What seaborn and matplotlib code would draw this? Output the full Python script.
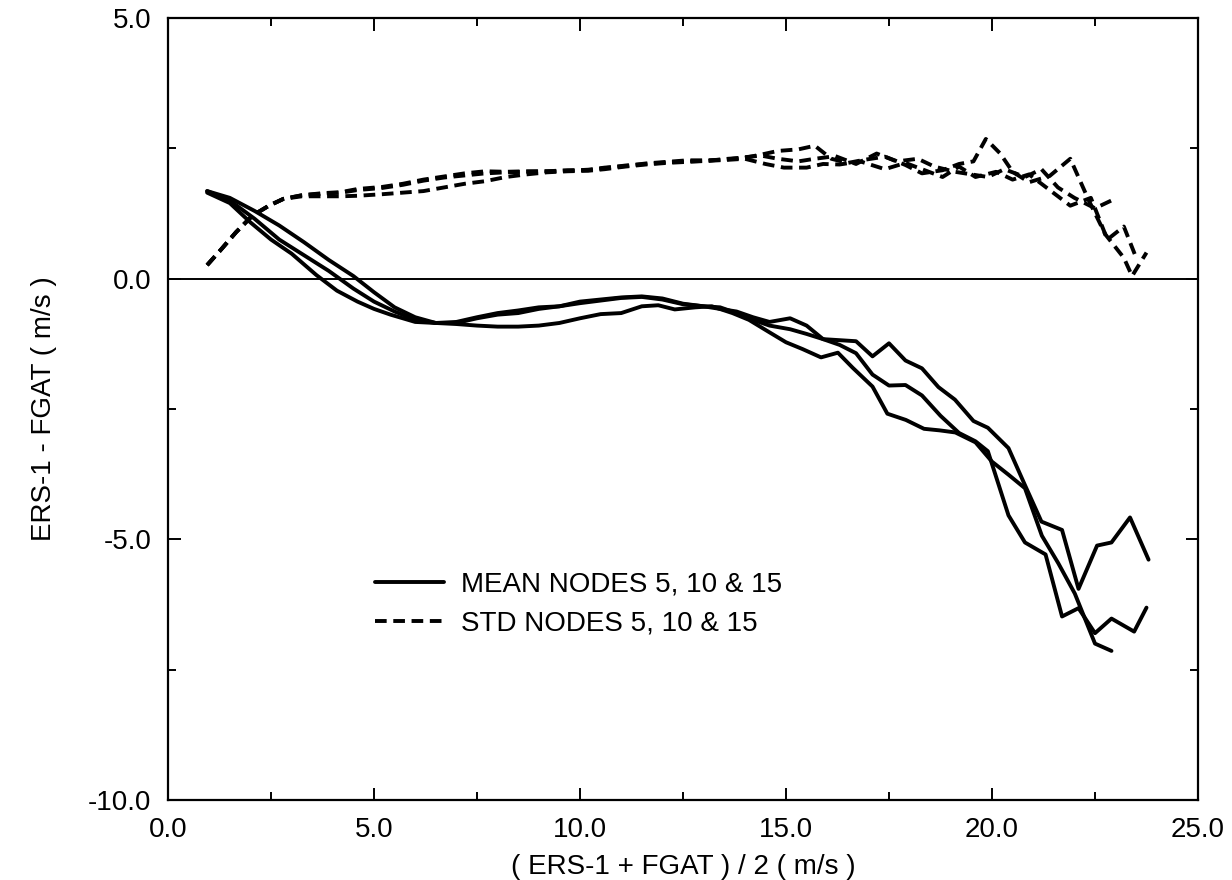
import matplotlib
matplotlib.use("Agg")
import matplotlib.pyplot as plt
from matplotlib.lines import Line2D
import seaborn as sns
import pandas as pd

# ---- data ----
mean_a_x = [0.95, 1.5, 2.1, 2.7, 3.3, 3.9, 4.5, 5.0, 5.5, 6.0, 6.5, 7.0, 7.5, 8.0, 8.5, 9.0, 9.5, 10.0,
            10.5, 11.0, 11.5, 12.0, 12.5, 13.0, 13.4, 13.8, 14.2, 14.6, 15.1, 15.5, 15.9, 16.3, 16.7, 17.1,
            17.5, 17.9, 18.3, 18.7, 19.1, 19.55, 19.9, 20.4, 20.8, 21.2, 21.7, 22.1, 22.55, 22.9, 23.35, 23.8]
mean_a_y = [1.68, 1.55, 1.30, 1.02, 0.70, 0.36, 0.05, -0.26, -0.55, -0.74, -0.85, -0.85, -0.76, -0.69, -0.66,
            -0.58, -0.53, -0.44, -0.40, -0.36, -0.34, -0.38, -0.48, -0.53, -0.58, -0.63, -0.74, -0.83, -0.76,
            -0.90, -1.16, -1.18, -1.20, -1.49, -1.24, -1.57, -1.72, -2.08, -2.32, -2.73, -2.86, -3.25, -3.96,
            -4.66, -4.82, -5.95, -5.12, -5.06, -4.58, -5.39]

mean_b_x = [0.95, 1.5, 2.1, 2.7, 3.3, 3.9, 4.5, 5.0, 5.5, 6.0, 6.5, 7.0, 7.5, 8.0, 8.5, 9.0, 9.5, 10.0,
            10.5, 11.0, 11.5, 12.0, 12.5, 13.0, 13.4, 13.8, 14.2, 14.6, 15.1, 15.5, 15.9, 16.3, 16.7, 17.1,
            17.5, 17.9, 18.3, 18.75, 19.2, 19.6, 19.9, 20.4, 20.8, 21.3, 21.7, 22.1, 22.5, 22.9, 23.45, 23.75]
mean_b_y = [1.68, 1.50, 1.15, 0.75, 0.45, 0.15, -0.19, -0.44, -0.63, -0.79, -0.85, -0.83, -0.74, -0.66, -0.61,
            -0.55, -0.53, -0.47, -0.42, -0.37, -0.35, -0.40, -0.49, -0.53, -0.55, -0.66, -0.79, -0.90, -0.97,
            -1.06, -1.16, -1.27, -1.43, -1.84, -2.05, -2.04, -2.24, -2.63, -2.96, -3.12, -3.31, -4.54, -5.06,
            -5.29, -6.48, -6.32, -6.80, -6.52, -6.77, -6.31]

mean_c_x = [0.95, 1.5, 2.0, 2.5, 3.0, 3.6, 4.1, 4.6, 5.0, 5.4, 6.0, 6.5, 7.0, 7.5, 8.0, 8.5, 9.0, 9.5, 10.0,
            10.5, 11.0, 11.5, 11.9, 12.3, 12.8, 13.2, 13.7, 14.1, 14.6, 15.0, 15.4, 15.85, 16.26, 16.62, 17.1,
            17.46, 17.91, 18.35, 18.73, 19.11, 19.6, 20.0, 20.4, 20.8, 21.21, 21.61, 22.01, 22.5, 22.9]
mean_c_y = [1.65, 1.45, 1.08, 0.75, 0.48, 0.07, -0.23, -0.44, -0.58, -0.69, -0.83, -0.85, -0.87, -0.90, -0.92,
            -0.92, -0.90, -0.85, -0.76, -0.68, -0.66, -0.53, -0.51, -0.59, -0.55, -0.53, -0.66, -0.79, -1.03,
            -1.22, -1.35, -1.51, -1.42, -1.71, -2.07, -2.59, -2.71, -2.88, -2.91, -2.95, -3.14, -3.51, -3.76,
            -4.02, -4.93, -5.46, -6.04, -7.00, -7.14]

std_a_x = [0.95, 1.3, 1.65, 2.05, 2.45, 2.8, 3.25, 3.75, 4.2, 4.6, 5.2, 5.7, 6.2, 6.7, 7.2, 7.7, 8.2, 8.7, 9.2,
           9.7, 10.2, 10.6, 11.1, 11.6, 12.1, 12.6, 13.1, 13.6, 14.0, 14.4, 14.8, 15.3, 15.7, 16.1, 16.5, 16.9,
           17.4, 17.9, 18.3, 18.8, 19.2, 19.55, 19.85, 20.2, 20.5, 20.9, 21.4, 21.9, 22.35, 22.75, 23.2, 23.4, 23.75]
std_a_y = [0.26, 0.57, 0.89, 1.21, 1.40, 1.53, 1.60, 1.64, 1.66, 1.72, 1.76, 1.82, 1.90, 1.96, 2.02, 2.06, 2.05,
           2.06, 2.06, 2.08, 2.08, 2.12, 2.17, 2.20, 2.23, 2.25, 2.26, 2.30, 2.32, 2.38, 2.45, 2.48, 2.55, 2.30,
           2.22, 2.28, 2.34, 2.18, 2.02, 2.08, 2.20, 2.25, 2.68, 2.40, 2.05, 1.85, 1.97, 2.30, 1.50, 0.85, 0.40,
           0.05, 0.50]

std_b_x = [0.95, 1.3, 1.65, 2.05, 2.45, 2.8, 3.25, 3.75, 4.2, 4.6, 5.2, 5.7, 6.2, 6.7, 7.2, 7.7, 8.2, 8.7, 9.2,
           9.7, 10.2, 10.6, 11.1, 11.6, 12.1, 12.6, 13.1, 13.6, 14.0, 14.5, 14.95, 15.5, 15.9, 16.3, 16.8, 17.4,
           17.9, 18.3, 18.8, 19.2, 19.6, 20.1, 20.5, 20.9, 21.4, 21.9, 22.4, 22.8, 23.2, 23.5]
std_b_y = [0.26, 0.57, 0.89, 1.21, 1.40, 1.53, 1.58, 1.58, 1.58, 1.59, 1.62, 1.65, 1.68, 1.75, 1.82, 1.87, 1.95,
           2.00, 2.04, 2.06, 2.07, 2.10, 2.15, 2.19, 2.22, 2.24, 2.26, 2.28, 2.30, 2.20, 2.13, 2.13, 2.20, 2.19,
           2.25, 2.10, 2.22, 2.10, 1.95, 2.15, 1.95, 2.05, 1.90, 2.00, 1.70, 1.40, 1.55, 0.75, 1.00, 0.40]

std_c_x = [0.95, 1.3, 1.65, 2.05, 2.45, 2.8, 3.25, 3.75, 4.2, 4.6, 5.2, 5.7, 6.2, 6.7, 7.2, 7.7, 8.2, 8.7, 9.2,
           9.7, 10.2, 10.6, 11.1, 11.6, 12.1, 12.6, 13.1, 13.6, 14.0, 14.4, 14.8, 15.3, 15.7, 16.2, 16.7, 17.2,
           17.7, 18.2, 18.6, 19.1, 19.5, 19.9, 20.3, 20.8, 21.2, 21.6, 22.0, 22.5, 22.9]
std_c_y = [0.26, 0.57, 0.89, 1.21, 1.40, 1.53, 1.60, 1.63, 1.65, 1.70, 1.74, 1.80, 1.88, 1.94, 1.98, 2.02, 2.04,
           2.05, 2.06, 2.07, 2.09, 2.13, 2.16, 2.21, 2.24, 2.27, 2.27, 2.29, 2.33, 2.36, 2.30, 2.25, 2.30, 2.35,
           2.20, 2.40, 2.25, 2.30, 2.15, 2.05, 2.00, 1.95, 2.10, 1.95, 2.10, 1.75, 1.55, 1.35, 1.50]

x_ticks = [0.0, 5.0, 10.0, 15.0, 20.0, 25.0]
y_ticks = [-10.0, -5.0, 0.0, 5.0]
legend_labels = ["MEAN NODES 5, 10 & 15", "STD NODES 5, 10 & 15"]
x_label = "( ERS-1 + FGAT ) / 2 ( m/s )"
y_label = "ERS-1 - FGAT ( m/s )"

# ---- drawing ----
sns.set_theme(style="ticks")
plt.rcParams["font.family"] = ["Liberation Sans", "DejaVu Sans"]
plt.rcParams["text.color"] = "black"
plt.rcParams["axes.labelcolor"] = "black"
plt.rcParams["xtick.color"] = "black"
plt.rcParams["ytick.color"] = "black"

fig = plt.figure(figsize=(12.32, 8.8), dpi=100)
ax = fig.add_axes([168 / 1232, 1 - 800 / 880, (1198 - 168) / 1232, (800 - 18) / 880])

LW = 2.8
DASH = (0, (3.0, 1.7))
for xs, ys in [(mean_a_x, mean_a_y), (mean_b_x, mean_b_y), (mean_c_x, mean_c_y)]:
    df = pd.DataFrame({"x": xs, "y": ys})
    sns.lineplot(data=df, x="x", y="y", ax=ax, color="black", lw=LW, sort=False,
                 estimator=None)
for xs, ys in [(std_a_x, std_a_y), (std_b_x, std_b_y), (std_c_x, std_c_y)]:
    df = pd.DataFrame({"x": xs, "y": ys})
    sns.lineplot(data=df, x="x", y="y", ax=ax, color="black", lw=LW, sort=False,
                 estimator=None, linestyle=DASH)

ax.axhline(0.0, color="black", lw=1.4, zorder=1)

ax.set_xlim(0, 25)
ax.set_ylim(-10, 5)
ax.set_xticks(x_ticks)
ax.set_xticklabels([f"{v:.1f}" for v in x_ticks])
ax.set_yticks(y_ticks)
ax.set_yticklabels([f"{v:.1f}" for v in y_ticks])
ax.set_xticks([2.5, 7.5, 12.5, 17.5, 22.5], minor=True)
ax.set_yticks([-7.5, -2.5, 2.5], minor=True)
ax.tick_params(which="both", direction="in", top=True, right=True, color="black", labelcolor="black")
ax.tick_params(which="major", length=9, width=1.4, labelsize=20, pad=12)
ax.tick_params(which="minor", length=6, width=1.4)
for s in ax.spines.values():
    s.set_linewidth(1.6)
    s.set_color("black")

ax.set_xlabel(x_label, fontsize=20, labelpad=8, color="black")
ax.set_ylabel(y_label, fontsize=20, labelpad=22, color="black")

handles = [Line2D([], [], color="black", lw=LW),
           Line2D([], [], color="black", lw=LW, linestyle=DASH)]
leg = ax.legend(handles, legend_labels, loc="upper left", bbox_to_anchor=(0.19, 0.306), frameon=False,
                fontsize=20, handlelength=2.5, handletextpad=0.6, labelspacing=0.45, borderaxespad=0)
for t in leg.get_texts():
    t.set_color("black")

fig.savefig("out.png", dpi=100)
